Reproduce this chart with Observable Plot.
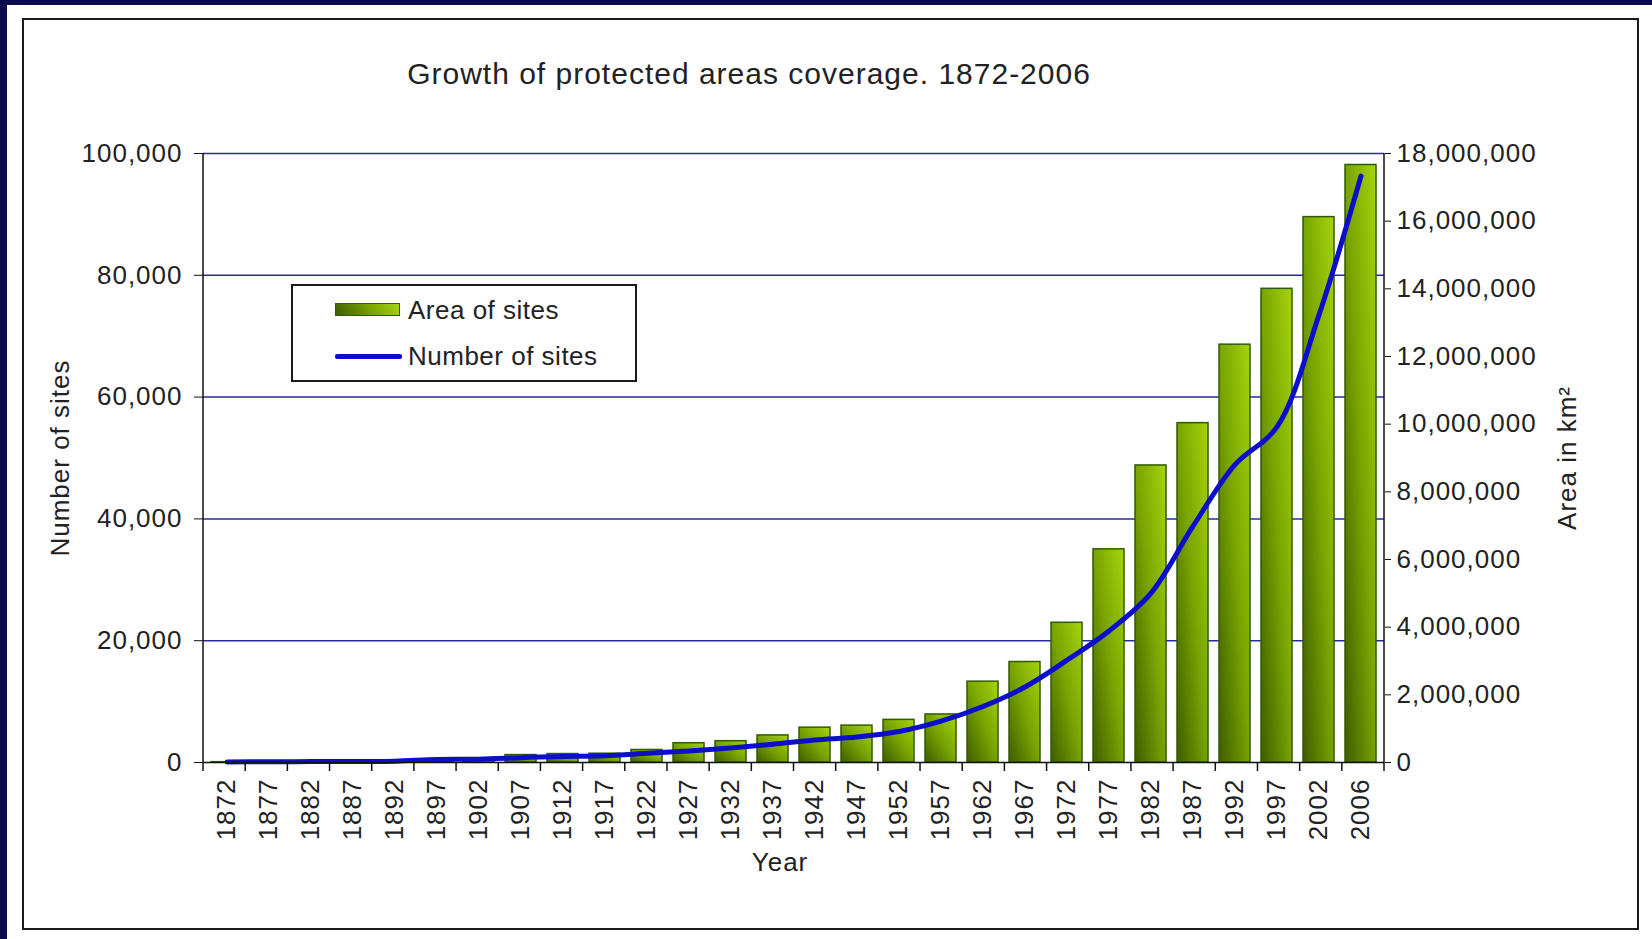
<!DOCTYPE html>
<html>
<head>
<meta charset="utf-8">
<script src="https://cdn.jsdelivr.net/npm/d3@7"></script>
<script src="https://cdn.jsdelivr.net/npm/@observablehq/plot@0.6"></script>
<style>
  html, body { margin: 0; padding: 0; }
  body { width: 1652px; height: 939px; background: #0b0b4c; overflow: hidden; font-family: "Liberation Sans", Arial, sans-serif; color: #222; }
  #panel { position: absolute; left: 7px; top: 5px; width: 1645px; height: 934px; background: #fff; }
  #border { position: absolute; left: 22px; top: 18px; width: 1617px; height: 912px; box-sizing: border-box; border: 2px solid #1a1a1a; }
  #title { position: absolute; left: 0; top: 57px; width: 1498px; text-align: center; font-size: 30px; letter-spacing: 1px; color: #222; }
  #chart { position: absolute; left: 0; top: 0; }
  #legend { position: absolute; left: 291px; top: 284px; width: 346px; height: 98px; box-sizing: border-box; border: 2px solid #1a1a1a; background: #fff; }
  .sw-bar { position: absolute; left: 42px; top: 17px; width: 65px; height: 13px; background: linear-gradient(60deg, #3f5c00 0%, #7aa300 55%, #a8d410 100%); border: 1px solid #2f5c00; box-sizing: border-box; }
  .sw-line { position: absolute; left: 42px; top: 68px; width: 67px; height: 5px; background: #0d0dcc; border-radius: 2px; }
  .lg-text { position: absolute; left: 115px; font-size: 26px; letter-spacing: 0.5px; color: #222; line-height: 30px; }
</style>
</head>
<body>
<div id="panel"></div>
<div id="border"></div>
<div id="title">Growth of protected areas coverage. 1872-2006</div>
<div id="chart"></div>
<div id="legend">
  <div class="sw-bar"></div>
  <div class="lg-text" style="top:9px">Area of sites</div>
  <div class="sw-line"></div>
  <div class="lg-text" style="top:55px">Number of sites</div>
</div>
<script>
// ---- data ----
const years = ["1872","1877","1882","1887","1892","1897","1902","1907","1912","1917",
  "1922","1927","1932","1937","1942","1947","1952","1957","1962","1967",
  "1972","1977","1982","1987","1992","1997","2002","2006"];
const areaKm2 = [10000, 10000, 20000, 20000, 30000, 50000, 60000, 220000, 250000, 260000,
  370000, 570000, 630000, 800000, 1030000, 1090000, 1260000, 1420000, 2390000, 2970000,
  4130000, 6300000, 8780000, 10030000, 12350000, 14000000, 16120000, 17660000];
const numberOfSites = [100, 120, 150, 180, 220, 500, 550, 800, 1000, 1100,
  1500, 1900, 2400, 3000, 3700, 4200, 5100, 6800, 9200, 12400,
  16800, 21600, 27800, 38800, 48900, 55100, 73500, 96300];
const leftTicks = [0, 20000, 40000, 60000, 80000, 100000];
const rightTicks = [0, 2000000, 4000000, 6000000, 8000000, 10000000, 12000000, 14000000, 16000000, 18000000];

const leftMax = 100000, rightMax = 18000000;
const ratio = leftMax / rightMax;
const rows = years.map((year, i) => ({year, area: areaKm2[i], sites: numberOfSites[i]}));
const fmt = d3.format(",");

const defs = () => {
  const g = d3.create("svg:defs");
  const lg = g.append("linearGradient").attr("id", "barGrad")
    .attr("x1", 0).attr("y1", 1).attr("x2", 1).attr("y2", 0);
  lg.append("stop").attr("offset", "0%").attr("stop-color", "#3f5c00");
  lg.append("stop").attr("offset", "50%").attr("stop-color", "#78a300");
  lg.append("stop").attr("offset", "100%").attr("stop-color", "#a6d40e");
  return g.node();
};

const chart = Plot.plot({
  width: 1652,
  height: 939,
  marginLeft: 203,
  marginRight: 268,
  marginTop: 153,
  marginBottom: 177,
  style: {background: "transparent", fontFamily: "'Liberation Sans', Arial, sans-serif", fontSize: "26px", color: "#222", letterSpacing: "1px"},
  x: {domain: years, paddingInner: 0.26, paddingOuter: 0.13, label: null},
  y: {domain: [0, leftMax], label: null},
  marks: [
    defs,
    Plot.ruleY(leftTicks.filter(d => d > 0), {stroke: "#2a2aa0", strokeWidth: 1.5}),
    Plot.barY(rows, {x: "year", y: d => d.area * ratio, fill: "url(#barGrad)", stroke: "#2f5c00", strokeWidth: 1.5}),
    Plot.line(rows, {x: "year", y: "sites", stroke: "#0d0dcc", strokeWidth: 5, curve: "catmull-rom"}),
    Plot.ruleY([0], {stroke: "#111", strokeWidth: 1.5}),
    Plot.axisY(leftTicks, {anchor: "left", tickSize: 9, tickPadding: 12, tickFormat: fmt, label: null, stroke: "#111"}),
    Plot.axisY(rightTicks.map(v => v * ratio), {anchor: "right", tickSize: 6, tickPadding: 6, tickFormat: d => fmt(Math.round(d / ratio)), label: null, stroke: "#111"}),
    Plot.axisX({tickSize: 0, tickPadding: 16, tickRotate: -90, label: null}),
    Plot.text(["Number of sites"], {frameAnchor: "left", textAnchor: "middle", dx: -143, rotate: -90, fontSize: 26, fill: "#222"}),
    Plot.text(["Area in km\u00b2"], {frameAnchor: "right", textAnchor: "middle", dx: 183, rotate: -90, fontSize: 26, fill: "#222"}),
    Plot.text(["Year"], {frameAnchor: "bottom", textAnchor: "middle", dx: -14, dy: 108, fontSize: 26, fill: "#222"})
  ]
});

// axis lines and category-boundary ticks, derived from the Plot scales
const xs = chart.scale("x"), ys = chart.scale("y");
const [x0, x1] = xs.range;
const yBottom = ys.apply(0), yTop = ys.apply(leftMax);
const g = d3.select(chart).append("g").attr("stroke", "#111").attr("stroke-width", 1.5);
g.append("line").attr("x1", x0).attr("x2", x0).attr("y1", yTop).attr("y2", yBottom);
g.append("line").attr("x1", x1).attr("x2", x1).attr("y1", yTop).attr("y2", yBottom);
const n = years.length;
d3.range(n + 1).forEach(i => {
  const bx = x0 + i * (x1 - x0) / n;
  g.append("line").attr("x1", bx).attr("x2", bx).attr("y1", yBottom).attr("y2", yBottom + 9);
});

document.getElementById("chart").appendChild(chart);
</script>
</body>
</html>
